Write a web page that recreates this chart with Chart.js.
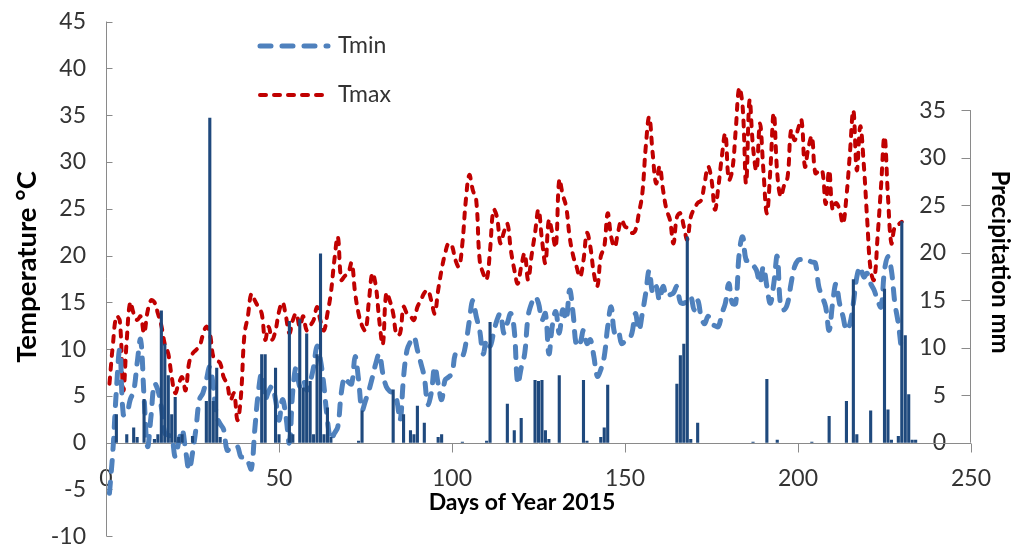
<!DOCTYPE html>
<html>
<head>
<meta charset="utf-8">
<script src="https://cdn.jsdelivr.net/npm/chart.js@4.4.1/dist/chart.umd.min.js"></script>
<style>
  html, body { margin: 0; padding: 0; background: #ffffff; }
  #wrap { width: 1013px; height: 547px; position: relative; }
</style>
</head>
<body>
<div id="wrap"><canvas id="chart"></canvas></div>
<script>
// Daily weather record, 2015 (day of year starts at 1)
const firstDay = 1;

// Daily minimum temperature, °C
const tminC = [
  -5.4, -0.8, 5.6, 9.9, 3, 3.1, 4.6, 5.5, 8.5, 11,
  4.9, -0.4, 2.8, 6.3, 5.6, 3.8, 1, 0.8, 0.6, -1.5,
  0, 1.4, -0.8, -2.9, -1.1, 1.5, 4.6, 5.3, 6.7, 8.1,
  6, 2.8, 2, 1.4, -0.8, -0.6, -0.4, -0.4, -1.5, -1.5,
  -2, -2.8, 1.4, 5.3, 7.4, 4.6, 5.5, 6, 4.6, 2.4,
  4.6, 2.8, 0, 5.6, 8.1, 6, 6.7, 5.6, 6.5, 8.1,
  10.3, 8.8, 6, 2.4, 0.3, 1, 1.7, 5.3, 7, 6.5,
  6.3, 9.2, 6.7, 3.5, 4.5, 5.6, 7, 8.5, 9.5, 7.4,
  6, 5.5, 5.3, 4.6, 2.4, 7, 9.9, 10.8, 11.3, 9.9,
  8.5, 7, 4.1, 5.3, 8.1, 6.3, 4.6, 6.7, 7, 7.4,
  9.5, 9.3, 9.2, 10.6, 13, 15.2, 13.5, 12, 9.5, 11,
  10.3, 11.7, 13.1, 13.8, 11.7, 12.8, 13.8, 12, 6.3, 8,
  9.5, 13.5, 14.9, 15.6, 14.9, 13.1, 13.8, 9.5, 12.5, 14,
  11.7, 14.2, 13.1, 16.3, 13.8, 10.3, 10.6, 12, 10.6, 11,
  9.2, 7.1, 7.8, 9.2, 12.4, 14.5, 11.7, 12, 10.6, 10.8,
  11, 11.7, 13.8, 12, 13.8, 16, 18.4, 16, 16.7, 15.2,
  16.7, 15.6, 15.8, 16, 16.7, 15, 14.9, 15.2, 15.6, 14.2,
  15.2, 13.5, 12.7, 13.5, 12.7, 12.5, 12.4, 13.8, 14.9, 17,
  14.9, 14.9, 20.2, 22, 19.5, 19.5, 19, 18.4, 17, 18.8,
  16.7, 14.9, 17, 19.9, 14.5, 14.2, 14.9, 17, 18.8, 19.5,
  19.6, 19.7, 19.5, 19.3, 19.2, 16.7, 15.6, 14.5, 12, 14.9,
  17, 14.9, 13.5, 12, 12.7, 14.9, 17.7, 18.8, 17.7, 18.1,
  17, 16.3, 15.2, 14.5, 18.4, 19.9, 18.4, 14.9, 12.7, 9.5
];

// Daily maximum temperature, °C
const tmaxC = [
  6.3, 10.5, 13.5, 13, 5.6, 11, 15, 13.8, 13.1, 13.5,
  11.7, 14, 15.2, 15, 13.8, 12.5, 10.5, 9.5, 7, 5.3,
  6.3, 7, 5.6, 8.5, 9.5, 9.9, 10.3, 11.5, 12.4, 11.7,
  9.2, 8.8, 8.5, 7, 6.3, 4.6, 5.3, 2.4, 5, 11.5,
  13.5, 15.9, 15.2, 14.5, 13.8, 11, 12.4, 11, 12, 14,
  15, 13.5, 11.7, 13.1, 13.8, 12.4, 13.5, 12, 12.5, 13.1,
  14.5, 13, 12, 13.8, 16, 19.5, 22, 17.4, 17.8, 18.1,
  19.2, 16, 13.8, 12.5, 12, 15.2, 18.1, 16.7, 13, 10.5,
  16, 15.2, 13.8, 11.5, 11.7, 14.5, 13.8, 13.5, 13.1, 14.5,
  15.2, 16, 16.3, 15.2, 13.8, 16.3, 18.5, 20.2, 21.3, 21,
  19.5, 18.8, 21.3, 25.9, 28.6, 27, 25.9, 19.5, 18.1, 17.4,
  20.6, 24.9, 24.1, 21.3, 22.5, 23.4, 20.6, 18.5, 17, 18.8,
  20.2, 17.4, 20, 22.4, 24.9, 21.7, 19.2, 23.8, 22.4, 20.9,
  28.1, 26.5, 25.2, 22, 20, 18.8, 17.7, 19.5, 22.4, 20.9,
  18.1, 16.7, 19.9, 20.9, 24.5, 22, 20.9, 22.5, 23.8, 23.1,
  22.9, 22.4, 22.7, 24.5, 26.6, 31.6, 34.8, 30.9, 27.7, 29.5,
  27, 24.9, 23.8, 21.3, 24.1, 24.5, 23.1, 21.7, 24.1, 25,
  25.6, 25.9, 27.7, 29.5, 28.1, 24.9, 27.4, 30.6, 33, 28.1,
  29.1, 33.4, 37.9, 35.9, 27.7, 36.6, 31.6, 29.1, 34.1, 29.1,
  24.5, 29.1, 35.2, 28.8, 26.3, 27.5, 28.4, 33.4, 32.3, 33.5,
  34.5, 29.5, 31.5, 32.7, 28.8, 29, 29.1, 25.5, 29.1, 24.9,
  25.6, 24.9, 23.4, 26.3, 30.9, 35.5, 29.1, 33.8, 29.8, 23.8,
  18.4, 17.4, 22, 27.4, 32.7, 26.3, 21.3, 23.1, 23.3, 23.6
];

// Days with rain and the amount that fell, mm
const rainDay = [
  3, 6, 8, 9, 11, 14, 15, 16, 17, 18, 19, 20, 21, 22, 25, 29, 30, 31, 32, 33,
  45, 46, 49, 50, 53, 54, 56, 57, 58, 59, 60, 61, 62, 63, 64, 65,
  73, 74, 83, 86, 88, 89, 90, 92, 96, 97, 103, 110, 111, 116, 118, 120,
  124, 125, 126, 127, 128, 131, 138, 139, 143, 144, 145,
  165, 166, 167, 168, 169, 171, 187, 191, 194, 204, 209, 214, 216, 217,
  221, 225, 226, 227, 229, 230, 231, 232, 233, 234
];
const rainMm = [
  3.0, 0.9, 1.6, 0.6, 4.6, 0.4, 0.9, 13.9, 10.4, 7.1, 3.0, 4.8, 0.6, 0.9, 0.7, 4.4, 34.2, 4.4, 7.9, 0.6,
  9.3, 9.3, 7.9, 0.9, 12.8, 0.9, 13.0, 5.8, 11.5, 6.5, 0.9, 9.3, 19.9, 0.9, 3.7, 0.6,
  0.2, 3.4, 5.6, 3.0, 1.3, 0.9, 3.9, 2.1, 0.6, 0.9, 0.1, 0.2, 12.7, 4.1, 1.3, 2.6,
  6.6, 6.5, 6.6, 1.3, 0.4, 7.1, 6.6, 0.2, 0.6, 1.6, 6.1,
  6.2, 9.2, 10.4, 21.7, 0.4, 2.1, 0.1, 6.7, 0.3, 0.1, 2.8, 4.4, 17.2, 0.9,
  3.4, 16.2, 3.5, 0.3, 0.7, 23.3, 11.3, 5.1, 0.3, 0.3
];

// Axis tick values
const dayTicks = [0, 50, 100, 150, 200, 250];
const tempTicks = [-10, -5, 0, 5, 10, 15, 20, 25, 30, 35, 40, 45];
const rainTicks = [0, 5, 10, 15, 20, 25, 30, 35];

const fontFamily = 'Lato, "Open Sans", sans-serif';
const tickFont = { family: fontFamily, size: 23 };
const tickColor = '#333333';
const axisColor = '#8a8a8a';
// the precipitation axis is a touch more stretched than the temperature axis
const mmPerDegree = 0.985;

const asTicks = values => values.map(v => ({ value: v }));

// Axis lines, inward/outward tick marks, titles and the in-plot legend
const frame = {
  id: 'frame',
  beforeDatasetsDraw(chart, args, o) {
    const { ctx, chartArea: a, scales: { x, y, y1 } } = chart;
    ctx.save();
    ctx.strokeStyle = o.axisColor;
    ctx.lineWidth = 1;
    ctx.beginPath();
    const lx = Math.round(a.left) + 0.5;
    ctx.moveTo(lx, a.top);
    ctx.lineTo(lx, a.bottom);
    tempTicks.forEach(v => {
      const py = Math.round(y.getPixelForValue(v)) + 0.5;
      ctx.moveTo(lx, py);
      ctx.lineTo(lx + o.leftTick, py);
    });
    const y0 = Math.round(y.getPixelForValue(0)) + 0.5;
    ctx.moveTo(a.left, y0);
    ctx.lineTo(a.right, y0);
    dayTicks.forEach(v => {
      const px = Math.round(x.getPixelForValue(v)) + 0.5;
      ctx.moveTo(px, y0);
      ctx.lineTo(px, y0 + o.bottomTick);
    });
    const rx = Math.round(a.right) - 0.5;
    ctx.moveTo(rx, y1.getPixelForValue(rainTicks[rainTicks.length - 1]));
    ctx.lineTo(rx, y1.getPixelForValue(0));
    rainTicks.forEach(v => {
      const py = Math.round(y1.getPixelForValue(v)) + 0.5;
      ctx.moveTo(rx, py);
      ctx.lineTo(rx - o.rightTick, py);
    });
    ctx.stroke();
    ctx.restore();
  },
  afterDraw(chart, args, o) {
    const { ctx } = chart;
    ctx.save();
    ctx.fillStyle = o.titleColor;
    ctx.textAlign = 'center';
    ctx.textBaseline = 'middle';
    o.titles.forEach(t => {
      ctx.save();
      ctx.font = `bold ${t.size}px ${fontFamily}`;
      ctx.translate(t.x, t.y);
      ctx.rotate(t.angle);
      ctx.fillText(t.text, 0, 0);
      ctx.restore();
    });
    // legend for the two temperature lines
    const lg = o.legend;
    chart.data.datasets.forEach(ds => {
      const row = lg.rows[ds.label];
      if (row === undefined) return;
      ctx.save();
      ctx.strokeStyle = ds.borderColor;
      ctx.lineWidth = ds.borderWidth;
      ctx.lineCap = ds.borderCapStyle;
      ctx.setLineDash(ds.borderDash);
      ctx.beginPath();
      ctx.moveTo(lg.x1, row);
      ctx.lineTo(lg.x2, row);
      ctx.stroke();
      ctx.restore();
      ctx.fillStyle = lg.color;
      ctx.font = `${lg.size}px ${fontFamily}`;
      ctx.textAlign = 'left';
      ctx.textBaseline = 'middle';
      ctx.fillText(ds.label, lg.textX, row);
    });
    ctx.restore();
  }
};

new Chart(document.getElementById('chart'), {
  data: {
    datasets: [
      {
        type: 'bar',
        label: 'Precipitation',
        yAxisID: 'y1',
        data: rainDay.map((d, i) => ({ x: d, y: rainMm[i] })),
        backgroundColor: '#1F497D',
        barPercentage: 0.9,
        categoryPercentage: 1,
        order: 0
      },
      {
        type: 'line',
        label: 'Tmin',
        yAxisID: 'y',
        data: tminC.map((v, i) => ({ x: firstDay + i, y: v })),
        borderColor: '#4F81BD',
        borderWidth: 5,
        borderDash: [11, 11],
        borderCapStyle: 'round',
        pointRadius: 0,
        tension: 0.4,
        fill: false,
        order: 1
      },
      {
        type: 'line',
        label: 'Tmax',
        yAxisID: 'y',
        data: tmaxC.map((v, i) => ({ x: firstDay + i, y: v })),
        borderColor: '#C00000',
        borderWidth: 4,
        borderDash: [6, 8],
        borderCapStyle: 'round',
        pointRadius: 0,
        tension: 0.4,
        fill: false,
        order: 2
      }
    ]
  },
  options: {
    responsive: true,
    maintainAspectRatio: false,
    animation: false,
    events: [],
    layout: { padding: { top: 21.5, bottom: 10.7, left: 0, right: 0 } },
    plugins: {
      legend: { display: false },
      tooltip: { enabled: false },
      frame: {
        axisColor: axisColor,
        leftTick: 6,
        bottomTick: 9,
        rightTick: 9,
        titleColor: '#000000',
        titles: [
          { text: 'Temperature °C', x: 27, y: 267, angle: -Math.PI / 2, size: 27.5 },
          { text: 'Precipitation mm', x: 1000, y: 262, angle: Math.PI / 2, size: 24 },
          { text: 'Days of Year 2015', x: 522, y: 503, angle: 0, size: 23 }
        ],
        legend: { x1: 260, x2: 328, textX: 338, size: 23, color: '#333333', rows: { Tmin: 46, Tmax: 95 } }
      }
    },
    scales: {
      x: {
        type: 'linear',
        min: 0,
        max: 250,
        offset: false,
        // the day axis crosses the temperature axis at 0 °C
        position: { y: 0 },
        afterBuildTicks: s => { s.ticks = asTicks(dayTicks); },
        afterFit: s => { s.height = 0; s.paddingLeft = 0; s.paddingRight = 0; },
        ticks: { font: tickFont, color: tickColor, padding: 22, maxRotation: 0, autoSkip: false },
        grid: { display: false, drawTicks: false, offset: false },
        border: { display: false }
      },
      y: {
        type: 'linear',
        position: 'left',
        min: -10,
        max: 45,
        afterBuildTicks: s => { s.ticks = asTicks(tempTicks); },
        afterFit: s => { s.width = 106; s.paddingTop = 0; s.paddingBottom = 0; },
        ticks: { font: tickFont, color: tickColor, padding: 20 },
        grid: { display: false, drawTicks: false },
        border: { display: false }
      },
      y1: {
        type: 'linear',
        position: 'right',
        min: -10 * mmPerDegree,
        max: 45 * mmPerDegree,
        afterBuildTicks: s => { s.ticks = asTicks(rainTicks); },
        afterFit: s => { s.width = 42; s.paddingTop = 0; s.paddingBottom = 0; },
        ticks: { font: tickFont, color: tickColor, padding: -25, mirror: true },
        grid: { display: false, drawTicks: false },
        border: { display: false }
      }
    }
  },
  plugins: [frame]
});
</script>
</body>
</html>
